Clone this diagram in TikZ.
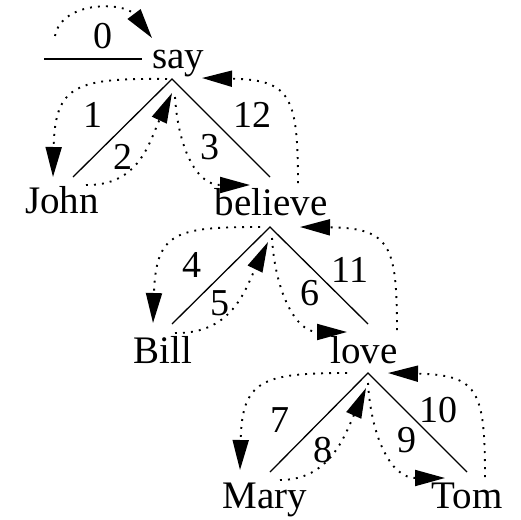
\documentclass[tikz,border=0pt]{standalone}
\usepackage{fontspec}
\setmainfont{Liberation Serif}
\usetikzlibrary{arrows.meta}
\tikzset{
  word/.style={font=\fontsize{39}{42}\selectfont, inner sep=0pt, anchor=base},
  num/.style={font=\fontsize{38}{40}\selectfont, inner sep=0pt, anchor=center},
  branch/.style={line width=1.3pt},
  walk/.style={line width=1.9pt, dash pattern=on 1.9pt off 6.1pt, -{Triangle[length=30pt,width=16pt]}},
}
\begin{document}
\begin{tikzpicture}[x=1pt,y=-1pt]
\useasboundingbox (0,0) rectangle (521,519);
% words
\node[word] (say) at (178,68) {say};
\node[word] (john) at (62,213) {John};
\node[word] (believe) at (271,215) {believe};
\node[word] (bill) at (163,363) {Bill};
\node[word] (love) at (364,363) {love};
\node[word] (mary) at (265,508) {Mary};
\node[word] (tom) at (467,508) {Tom};
% numbers
\node[num] (n0) at (103,36) {0};
\node[num] (n1) at (93,115) {1};
\node[num] (n2) at (123,157) {2};
\node[num] (n3) at (210,147) {3};
\node[num] (n12) at (252,115) {12};
\node[num] (n4) at (192,265) {4};
\node[num] (n5) at (220,303) {5};
\node[num] (n6) at (310,293) {6};
\node[num] (n11) at (350,270) {11};
\node[num] (n7) at (280,420) {7};
\node[num] (n8) at (323,450) {8};
\node[num] (n9) at (407,440) {9};
\node[num] (n10) at (438,410) {10};
% tree coordinates
\coordinate (root0) at (44,59);
\coordinate (root1) at (142,59);
\coordinate (A1) at (172,79);
\coordinate (L1) at (73,177);
\coordinate (R1) at (270,177);
\coordinate (A2) at (270,227);
\coordinate (L2) at (172,324);
\coordinate (R2) at (368,324);
\coordinate (A3) at (368,373);
\coordinate (L3) at (270,472);
\coordinate (R3) at (467,472);
\draw[branch] (root0) -- (root1);
\draw[branch] (L1) -- (A1) -- (R1);
\draw[branch] (L2) -- (A2) -- (R2);
\draw[branch] (L3) -- (A3) -- (R3);
% walk coordinates
\coordinate (s0) at (55,36);   \coordinate (t0) at (152,38);
\coordinate (s1) at (167,79);  \coordinate (t1) at (53,177);
\coordinate (s2) at (86,185);  \coordinate (t2) at (172,93);
\coordinate (s3) at (175,97);  \coordinate (t3) at (250,185);
\coordinate (s12) at (298,183); \coordinate (t12) at (202,78);
\coordinate (s4) at (260,227); \coordinate (t4) at (153,323);
\coordinate (s5) at (175,333); \coordinate (t5) at (268,242);
\coordinate (s6) at (272,238); \coordinate (t6) at (347,332);
\coordinate (s11) at (397,330); \coordinate (t11) at (300,227);
\coordinate (s7) at (347,373); \coordinate (t7) at (240,470);
\coordinate (s8) at (280,480); \coordinate (t8) at (366,388);
\coordinate (s9) at (368,383); \coordinate (t9) at (445,478);
\coordinate (s10) at (485,477); \coordinate (t10) at (388,373);
% walks
\draw[walk] (s0) .. controls (62,0) and (125,2) .. (t0);
\draw[walk] (s1) .. controls (75,78) and (55,85) .. (t1);
\draw[walk] (s2) .. controls (140,186) and (150,140) .. (t2);
\draw[walk] (s3) .. controls (178,145) and (195,185) .. (t3);
\draw[walk] (s12) .. controls (298,95) and (290,80) .. (t12);
\draw[walk] (s4) .. controls (175,227) and (156,232) .. (t4);
\draw[walk] (s5) .. controls (232,334) and (245,290) .. (t5);
\draw[walk] (s6) .. controls (275,290) and (295,332) .. (t6);
\draw[walk] (s11) .. controls (397,245) and (390,228) .. (t11);
\draw[walk] (s7) .. controls (262,373) and (242,380) .. (t7);
\draw[walk] (s8) .. controls (330,480) and (345,435) .. (t8);
\draw[walk] (s9) .. controls (371,435) and (390,478) .. (t9);
\draw[walk] (s10) .. controls (485,390) and (478,375) .. (t10);
\end{tikzpicture}
\end{document}
